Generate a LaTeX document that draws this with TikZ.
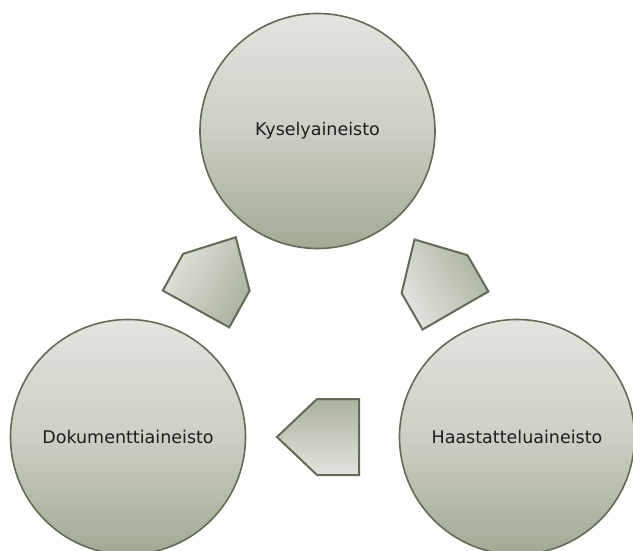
\documentclass[tikz,border=0pt]{standalone}
\usepackage{fontspec}
\setmainfont{DejaVu Sans}
\definecolor{lightfill}{HTML}{E2E4DE}
\definecolor{darkfill}{HTML}{A2A994}
\definecolor{edgecol}{HTML}{636B55}
\definecolor{textcol}{HTML}{1E1E1E}
\tikzset{
  circ/.style={circle, minimum size=235pt, inner sep=0pt, draw=edgecol, line width=1.6pt,
    top color=lightfill, bottom color=darkfill, middle color=lightfill!65!darkfill,
    text=textcol, font=\fontsize{17.5}{19}\selectfont},
  pent/.style={draw=edgecol, line width=2pt, line join=miter, top color=lightfill, bottom color=darkfill!85!lightfill}
}
\begin{document}
\begin{tikzpicture}[x=1pt,y=-1pt]
\useasboundingbox (0,0) rectangle (633,551);
\clip (0,0) rectangle (633,551);
\node[circ] (k) at (317.5,131) {Kyselyaineisto};
\node[circ] (d) at (128,437) {Dokumenttiaineisto};
\node[circ] (h) at (517,437) {Haastatteluaineisto};
% left arrow (Dokumenttiaineisto -> Kyselyaineisto)
\begin{scope}[shift={(196,309)}, rotate=61]
  \draw[pent, shading angle=61] (0,-38) -- (42,-38) -- (82,0) -- (42,38) -- (0,38) -- cycle;
\end{scope}
% right arrow (Haastatteluaineisto -> Kyselyaineisto)
\begin{scope}[shift={(455.5,310.5)}, rotate=120]
  \draw[pent, shading angle=120] (0,-38) -- (42,-38) -- (82,0) -- (42,38) -- (0,38) -- cycle;
\end{scope}
% bottom arrow (Haastatteluaineisto -> Dokumenttiaineisto)
\begin{scope}[shift={(359,437)}, rotate=180]
  \draw[pent, shading angle=180] (0,-38) -- (42,-38) -- (82,0) -- (42,38) -- (0,38) -- cycle;
\end{scope}
\end{tikzpicture}
\end{document}
